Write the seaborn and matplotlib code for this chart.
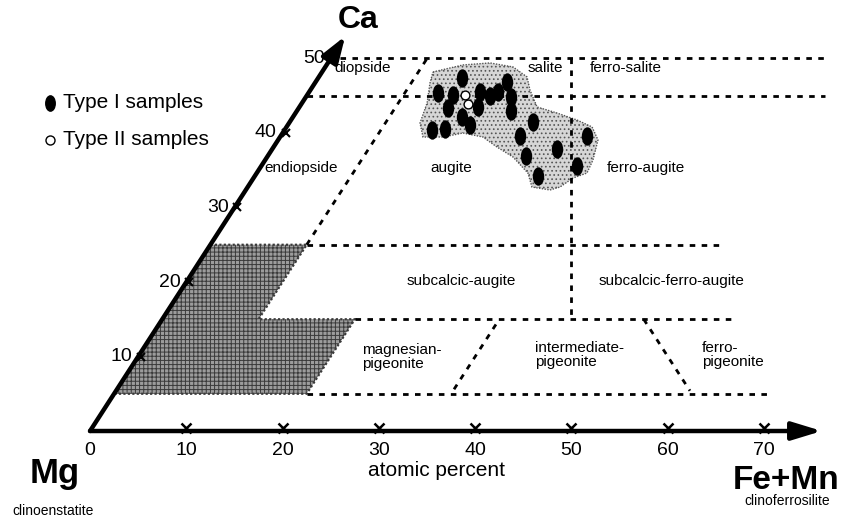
import numpy as np
import pandas as pd
import matplotlib
matplotlib.use("Agg")
import matplotlib.pyplot as plt
import seaborn as sns
from matplotlib.path import Path
from matplotlib.markers import MarkerStyle
from matplotlib.patches import Polygon
import matplotlib.transforms as mtrans

sns.set_style("white")
plt.rcParams["font.family"] = ["Liberation Sans", "DejaVu Sans"]
plt.rcParams["text.color"] = "black"
plt.rcParams["hatch.linewidth"] = 0.7

# ---- sample compositions (atomic percent) ----
type1_fe = [13.45, 15.14, 14.94, 15.50, 17.56, 18.55, 17.75, 19.06, 19.62, 19.88,
            21.30, 22.24, 15.31, 16.59, 25.26, 24.85, 29.56, 26.82, 31.81, 32.78,
            29.40, 18.92]
type1_ca = [45.37, 45.10, 47.38, 43.36, 42.15, 43.49, 45.50, 44.97, 45.50, 46.85,
            44.83, 42.95, 40.40, 40.54, 41.48, 39.60, 37.85, 36.91, 39.60, 35.57,
            34.23, 41.07]
type2_fe = [16.39, 17.30]
type2_ca = [45.10, 43.89]

# outline of the field occupied by the samples
field_fe = [11.52, 14.16, 16.84, 19.50, 21.62, 22.80, 24.68, 27.15, 29.70, 31.73,
            33.22, 34.04, 34.29, 33.18, 32.43, 31.59, 29.52, 28.16, 25.54, 23.20,
            21.08, 18.73, 16.93, 14.85, 13.60, 12.99, 11.95]
field_ca = [48.19, 49.13, 49.40, 48.86, 47.52, 45.77, 43.49, 42.68, 41.74, 40.81,
            39.06, 36.38, 34.63, 33.96, 32.75, 32.35, 32.75, 34.63, 36.78, 38.12,
            39.46, 40.00, 39.46, 39.46, 41.34, 44.03, 46.71]

# axis ticks
fe_ticks = [0, 10, 20, 30, 40, 50, 60, 70]
ca_ticks = [10, 20, 30, 40, 50]

# Ca-poor pyroxene field (Fe, Ca corners)
shade_fe = [0, 10, 10, 20, 20, 0]
shade_ca = [25, 25, 15, 15, 5, 5]

# classification boundaries: (Fe start, Ca start, Fe end, Ca end)
boundaries = [
    (1.0, 50, 51.3, 50),
    (0.0, 45, 53.8, 45),
    (10, 25, 53.4, 25),
    (20, 15, 59.5, 15),
    (20, 5, 68.1, 5),
    (10, 25, 10, 50),
    (25, 50, 42.5, 15),
    (35, 5.6, 35, 15),
    (50, 15, 59.6, 5.4),
]

field_names = ["diopside", "salite", "ferro-salite", "endiopside", "augite",
               "ferro-augite", "subcalcic-augite", "subcalcic-ferro-augite",
               "magnesian-\npigeonite", "intermediate-\npigeonite", "ferro-\npigeonite"]
# label anchors in plot coordinates (horizontal position, Ca)
name_u = [28.35, 47.25, 55.66, 21.9, 37.5, 57.7, 38.6, 60.4, 28.2, 46.2, 63.55]
name_ca = [48.7, 48.7, 48.7, 35.3, 35.3, 35.3, 20.1, 20.1, 10.0, 10.2, 10.2]
name_ha = ["center"] * 8 + ["left"] * 3


def proj(fe, ca):
    """Ternary (Fe, Ca) -> plot coordinates of the pyroxene quadrilateral."""
    fe = np.asarray(fe, float)
    ca = np.asarray(ca, float)
    return fe + ca / 2.0, ca


fig = plt.figure(figsize=(8.52, 5.19), dpi=100)
ax = fig.add_axes([0, 0, 1, 1])
ax.set_xlim(-9.35, 79.13)
ax.set_ylim(-11.81, 57.85)
ax.axis("off")

dash = (0, (2.0, 2.3))

# shaded Ca-poor field
sx, sy = proj(shade_fe, shade_ca)
ax.add_patch(Polygon(np.column_stack([sx, sy]), closed=True, facecolor="#9c9c9c",
                     edgecolor="#3a3a3a", hatch="++++", lw=1.6, linestyle=(0, (1, 1)),
                     zorder=1))

# sample field
fx, fy = proj(field_fe, field_ca)
ax.add_patch(Polygon(np.column_stack([fx, fy]), closed=True, facecolor="#d6d6d6",
                     edgecolor="#555555", hatch="....", lw=1.0, linestyle=(0, (1, 1)),
                     zorder=2))

# classification boundaries
for fe0, ca0, fe1, ca1 in boundaries:
    bx, by = proj([fe0, fe1], [ca0, ca1])
    ax.plot(bx, by, color="black", lw=2.0, linestyle=dash, zorder=3)

# axes with arrows
ox, oy = proj(0, 0)
tx, ty = proj(0, 53)
ax.annotate("", xy=(tx, ty), xytext=(ox, oy),
            arrowprops=dict(arrowstyle="-|>,head_length=1.6,head_width=0.55",
                            lw=3.2, color="black", shrinkA=0, shrinkB=0), zorder=6)
ex, ey = proj(76, 0)
ax.annotate("", xy=(ex, ey), xytext=(ox, oy),
            arrowprops=dict(arrowstyle="-|>,head_length=1.8,head_width=0.55",
                            lw=3.2, color="black", shrinkA=0, shrinkB=0), zorder=6)

# tick marks and labels along Fe axis
tkx, tky = proj(fe_ticks[1:], [0] * (len(fe_ticks) - 1))
ax.plot(tkx, tky + 0.45, linestyle="none", marker="x", ms=7, mew=1.8,
        color="black", zorder=7)
for v in fe_ticks:
    px, py = proj(v, 0)
    ax.text(px, -3.22, str(v), ha="center", va="baseline", fontsize=14)

# tick marks and labels along Ca axis
cx, cy = proj([0] * len(ca_ticks), ca_ticks)
ax.plot(cx + 0.3, cy, linestyle="none", marker="x", ms=6, mew=1.5,
        color="black", zorder=7)
for v, px, py in zip(ca_ticks, cx, cy):
    ax.text(px - 0.6, py, str(v), ha="right", va="center", fontsize=14)

# samples
ellipse = Path.unit_circle().transformed(mtrans.Affine2D().scale(0.62, 1.0))
t1x, t1y = proj(type1_fe, type1_ca)
t2x, t2y = proj(type2_fe, type2_ca)
samples1 = pd.DataFrame({"x": t1x, "y": t1y})
samples2 = pd.DataFrame({"x": t2x, "y": t2y})
sns.scatterplot(data=samples1, x="x", y="y", marker=MarkerStyle(ellipse), s=175,
                color="black", edgecolor="black", linewidth=0, ax=ax, legend=False,
                zorder=8)
sns.scatterplot(data=samples2, x="x", y="y", marker="o", s=40,
                color="white", edgecolor="black", linewidth=1.0, ax=ax, legend=False,
                zorder=9)
ax.set_xlim(-9.35, 79.13)
ax.set_ylim(-11.81, 57.85)
ax.set_xlabel("")
ax.set_ylabel("")

# field names
for name, u, c, ha in zip(field_names, name_u, name_ca, name_ha):
    ax.text(u, c, name, ha=ha, va="center", fontsize=11, linespacing=1.0, zorder=10)

# end-member labels
ax.text(27.83, 55.17, "Ca", ha="center", va="center", fontsize=23, fontweight="bold")
ax.text(-3.63, -7.0, "Mg", ha="center", va="baseline", fontsize=25, fontweight="bold")
ax.text(-3.80, -11.3, "clinoenstatite", ha="center", va="baseline", fontsize=10)
ax.text(72.27, -7.75, "Fe+Mn", ha="center", va="baseline", fontsize=24, fontweight="bold")
ax.text(72.38, -9.95, "clinoferrosilite", ha="center", va="baseline", fontsize=10)
ax.text(36.03, -6.04, "atomic percent", ha="center", va="baseline", fontsize=15)

# key
ax.plot([-4.15], [44.03], linestyle="none", marker=MarkerStyle(ellipse), ms=11,
        color="black")
ax.plot([-4.15], [39.06], linestyle="none", marker="o", ms=6.5, mfc="white",
        mec="black", mew=1.0)
ax.text(-2.8, 43.36, "Type I samples", ha="left", va="baseline", fontsize=15)
ax.text(-2.8, 38.39, "Type II samples", ha="left", va="baseline", fontsize=15)

fig.savefig("out.png", dpi=100)
